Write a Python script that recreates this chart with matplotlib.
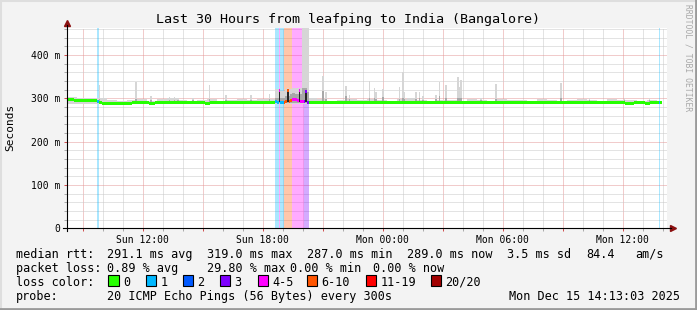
import datetime as dt
import matplotlib
matplotlib.use("Agg")
import matplotlib.pyplot as plt
import matplotlib.dates as mdates
from matplotlib.ticker import MultipleLocator, FuncFormatter
from matplotlib.patches import Rectangle
from matplotlib.lines import Line2D

W, H = 697, 310
MONO = "DejaVu Sans Mono"
T0 = dt.datetime(2025, 12, 14, 8, 13, 3)
STEP_MIN = 5

# median rtt per 5 minute step (ms)
median_ms = [
    297, 297, 297, 297, 296, 296, 296, 296, 296, 296, 296, 296, 296, 296, 296, 296, 296, 295, 293, 290, 290, 289, 289, 289,
    289, 289, 288, 288, 288, 288, 288, 288, 288, 288, 288, 288, 288, 288, 289, 290, 290, 290, 290, 290, 290, 290, 290, 290,
    290, 289, 289, 289, 289, 290, 290, 290, 290, 290, 290, 290, 290, 290, 290, 290, 290, 290, 290, 290, 290, 290, 290, 290,
    290, 290, 290, 290, 290, 290, 290, 290, 290, 290, 290, 289, 289, 289, 290, 290, 290, 290, 290, 290, 290, 290, 290, 290,
    290, 290, 290, 290, 290, 290, 290, 290, 290, 290, 290, 290, 290, 290, 290, 290, 290, 290, 290, 290, 290, 290, 290, 290,
    290, 290, 290, 290, 290, 292, 291, 318, 291, 291, 290, 292, 319, 294, 295, 298, 298, 298, 295, 318, 294, 294, 292, 316,
    291, 291, 291, 291, 291, 291, 291, 291, 291, 291, 291, 291, 291, 290, 290, 291, 291, 291, 291, 291, 291, 291, 291, 291,
    291, 291, 291, 291, 291, 291, 291, 291, 290, 290, 291, 291, 291, 291, 291, 291, 291, 291, 291, 291, 291, 291, 291, 291,
    291, 291, 291, 291, 291, 291, 291, 291, 291, 291, 291, 291, 291, 291, 291, 291, 291, 291, 291, 291, 291, 291, 291, 291,
    291, 291, 291, 291, 290, 290, 291, 291, 291, 291, 291, 291, 291, 291, 291, 291, 291, 291, 291, 291, 291, 291, 291, 291,
    291, 291, 291, 291, 291, 291, 291, 291, 291, 291, 291, 291, 291, 291, 291, 291, 291, 291, 291, 291, 291, 291, 291, 291,
    291, 291, 291, 291, 291, 291, 291, 291, 291, 291, 291, 291, 291, 291, 291, 291, 291, 291, 291, 291, 291, 291, 291, 291,
    291, 291, 291, 291, 291, 291, 291, 291, 291, 291, 291, 291, 291, 291, 291, 291, 291, 291, 291, 291, 291, 291, 291, 291,
    291, 291, 291, 291, 291, 291, 291, 291, 291, 291, 291, 291, 291, 291, 291, 291, 291, 291, 291, 291, 291, 291, 291, 289,
    289, 289, 289, 289, 290, 290, 291, 291, 291, 291, 291, 288, 288, 288, 290, 291, 291, 291, 291, 291, 291,
]

# packets lost (of 20) at the steps where loss happened
loss_steps = [18, 125, 126, 127, 128, 129, 130, 131, 132, 133, 134, 135, 136, 137, 138, 139, 140, 141, 142, 143, 144, 355]
loss_counts = [1, 1, 1, 5, 1, 1, 8, 8, 8, 8, 8, 5, 5, 5, 5, 5, 5, 5, 3, 3, 3, 1]

# baseline smoke top per half hour (ms) and common bottom
smoke_base_hi = [303, 302, 301, 302, 296, 295, 297, 299, 295, 298, 300, 296, 295, 297, 299, 295, 296, 298, 296, 299,
                 298, 295, 296, 296, 300, 298, 295, 297, 299, 296, 299, 297, 295, 298, 300, 296, 295, 297, 296, 295,
                 298, 296, 295, 299, 296, 297, 295, 298, 296, 295, 297, 299, 296, 295, 298, 296, 297, 295, 296, 295]
smoke_base_lo = 286

# single high pings (step, outer top ms, inner top ms)
spike_steps = [19, 41, 50, 61, 64, 66, 75, 85, 95, 110, 121, 153, 155, 167, 169, 181, 184, 185, 189, 199,
               201, 202, 209, 211, 213, 221, 223, 227, 234, 235, 236, 248, 257, 296, 313, 334, 349]
spike_outer = [330, 337, 306, 303, 304, 302, 300, 332, 308, 308, 311, 351, 314, 328, 308, 341, 325, 314, 322, 326,
               360, 316, 314, 316, 306, 308, 337, 332, 349, 326, 343, 300, 334, 336, 302, 301, 301]
spike_inner = [298, 298, 296, 296, 296, 296, 296, 298, 296, 296, 298, 318, 298, 305, 298, 300, 300, 298, 304, 298,
               302, 298, 298, 300, 296, 298, 306, 302, 302, 300, 302, 296, 298, 300, 296, 296, 296]

# smoke in the loss window, steps 125..144
window_first = 125
window_outer = [322, 322, 325, 318, 318, 318, 322, 325, 320, 322, 325, 325, 325, 325, 325, 325, 470, 470, 470, 470]
window_inner = [300, 300, 315, 300, 300, 300, 305, 318, 305, 310, 312, 312, 310, 310, 316, 310, 324, 324, 324, 316]
dark_steps = [127, 132, 139, 143]

loss_names = ["0", "1", "2", "3", "4-5", "6-10", "11-19", "20/20"]
loss_colors = ["#26ff00", "#00b8ff", "#0059ff", "#7e00ff", "#ff00ff", "#ff5500", "#ff0000", "#a10000"]


def loss_color(n):
    if n == 0:
        return loss_colors[0]
    if n <= 3:
        return loss_colors[n]
    if n <= 5:
        return loss_colors[4]
    if n <= 10:
        return loss_colors[5]
    if n <= 19:
        return loss_colors[6]
    return loss_colors[7]


def px(x, y):
    return x / W, 1 - y / H


step_w = STEP_MIN / 1440.0
t0 = mdates.date2num(T0)
t_end = mdates.date2num(T0 + dt.timedelta(hours=30))
times = [t0 + i * step_w for i in range(len(median_ms))]
loss_of = dict(zip(loss_steps, loss_counts))
YMAX = 462

fig = plt.figure(figsize=(W / 100, H / 100), dpi=100, facecolor="#f3f3f3")
ax = fig.add_axes([67 / W, (H - 228.3) / H, 600 / W, 200 / H])
ax.set_facecolor("white")
ax.set_xlim(t0, t_end)
ax.set_ylim(0, YMAX)
for s in ax.spines.values():
    s.set_visible(False)

# grid
ax.xaxis.set_major_locator(mdates.HourLocator(byhour=range(0, 24, 3)))
ax.xaxis.set_minor_locator(mdates.HourLocator())
ax.xaxis.set_major_formatter(FuncFormatter(
    lambda v, p: mdates.num2date(v).strftime("%a %H:%M") if mdates.num2date(v).hour % 6 == 0 else ""))
ax.yaxis.set_major_locator(MultipleLocator(100))
ax.yaxis.set_minor_locator(MultipleLocator(20))
ax.yaxis.set_major_formatter(FuncFormatter(lambda v, p: "0" if v == 0 else "%d m" % v))
ax.grid(which="minor", color="#c8c8c8", linestyle=(0, (1, 1)), linewidth=0.72)
ax.grid(which="major", color="#e49898", linestyle=(0, (1, 1)), linewidth=0.72)
ax.set_axisbelow(True)
ax.tick_params(which="both", direction="out", length=2, width=0.72, labelsize=7, pad=3)
ax.tick_params(which="major", color="#d05050")
ax.tick_params(which="minor", color="#aaaaaa")
for lab in ax.get_xticklabels() + ax.get_yticklabels():
    lab.set_fontfamily(MONO)

# loss background bands
for s, n in zip(loss_steps, loss_counts):
    ax.bar(times[s], YMAX, width=step_w, bottom=0, align="edge",
           color=loss_color(n), alpha=0.33, linewidth=0, zorder=1)

# smoke
smoke_lo = [smoke_base_lo] * len(median_ms)
smoke_hi = [smoke_base_hi[min(i * STEP_MIN // 30, 59)] for i in range(len(median_ms))]
smoke_in = [0] * len(median_ms)
for s, o, inn in zip(spike_steps, spike_outer, spike_inner):
    smoke_hi[s] = o
    smoke_in[s] = inn
for k, (o, inn) in enumerate(zip(window_outer, window_inner)):
    smoke_hi[window_first + k] = o
    smoke_in[window_first + k] = inn
    smoke_lo[window_first + k] = 288

ax.bar(times, [h - l for h, l in zip(smoke_hi, smoke_lo)], width=step_w, bottom=smoke_lo,
       align="edge", color="#d6d6d6", linewidth=0, zorder=2)
ax.bar(times, [max(i - 290, 0) for i in smoke_in], width=step_w, bottom=290,
       align="edge", color="#a8a8a8", linewidth=0, zorder=3)
for s in dark_steps:
    ax.bar(times[s], median_ms[s] - 292, width=step_w, bottom=292, align="edge",
           color="#262626", linewidth=0, zorder=4)

# median line, coloured by loss
ax.bar(times, [7] * len(median_ms), width=step_w, bottom=[m - 3.5 for m in median_ms], align="edge",
       color=[loss_color(loss_of.get(i, 0)) for i in range(len(median_ms))], linewidth=0, zorder=5)

# axes with arrows
ax.add_line(Line2D([-4 / 600, 1 + 4 / 600], [0, 0], transform=ax.transAxes, color="black",
                   linewidth=0.8, clip_on=False, zorder=6))
ax.add_line(Line2D([0, 0], [-3 / 200, 1 + 3 / 200], transform=ax.transAxes, color="black",
                   linewidth=0.8, clip_on=False, zorder=6))
ax.plot([1 + 6 / 600], [0], marker=">", markersize=4, color="#8b1010", transform=ax.transAxes, clip_on=False)
ax.plot([0], [1 + 5 / 200], marker="^", markersize=4, color="#8b1010", transform=ax.transAxes, clip_on=False)

# titles
fig.text(*px(348.5, 19), "Last 30 Hours from leafping to India (Bangalore)", family=MONO,
         fontsize=9.6, ha="center", va="center")
fig.text(*px(10, 127), "Seconds", family=MONO, fontsize=8, rotation=90, ha="center", va="center")
fig.text(*px(688, 58), "RRDTOOL / TOBI OETIKER", family=MONO, fontsize=5.8, rotation=270,
         ha="center", va="center", color="#a8a8a8")

# legend block
fs = 8.5
rows = [
    (254.3, [(16, "median rtt:"), (107, "291.1 ms avg"), (207, "319.0 ms max"), (307, "287.0 ms min"),
             (407, "289.0 ms now"), (507, "3.5 ms sd"), (586, "84.4"), (635, "am/s")]),
    (268.3, [(16, "packet loss:"), (107, "0.89 % avg"), (207, "29.80 % max"), (290, "0.00 % min"),
             (373, "0.00 % now")]),
    (282.0, [(16, "loss color:")]),
    (296.7, [(16, "probe:"), (107, "20 ICMP Echo Pings (56 Bytes) every 300s")]),
]
for y, items in rows:
    for x, s in items:
        fig.text(*px(x, y), s, family=MONO, fontsize=fs, ha="left", va="center")
fig.text(*px(680, 296.7), "Mon Dec 15 14:13:03 2025", family=MONO, fontsize=fs, ha="right", va="center")

box_x = [108, 145.5, 182.5, 219.5, 257.5, 306.5, 365.5, 430.5]
for bx, name, c in zip(box_x, loss_names, loss_colors):
    fig.add_artist(Rectangle(px(bx, 285.5), 10.5 / W, 10.5 / H, transform=fig.transFigure,
                             facecolor=c, edgecolor="black", linewidth=0.8))
    fig.text(*px(bx + 15, 282.0), name, family=MONO, fontsize=fs, ha="left", va="center")

# 3d frame
fig.add_artist(Line2D([0, 1], [1 - 1 / H, 1 - 1 / H], transform=fig.transFigure, color="#dedede", linewidth=1.5))
fig.add_artist(Line2D([1 / W, 1 / W], [0, 1], transform=fig.transFigure, color="#dedede", linewidth=1.5))
fig.add_artist(Line2D([0, 1], [1.2 / H, 1.2 / H], transform=fig.transFigure, color="#9a9a9a", linewidth=2))
fig.add_artist(Line2D([1 - 1.2 / W, 1 - 1.2 / W], [0, 1], transform=fig.transFigure, color="#9a9a9a", linewidth=2))

fig.savefig("out.png", dpi=100, facecolor=fig.get_facecolor())
